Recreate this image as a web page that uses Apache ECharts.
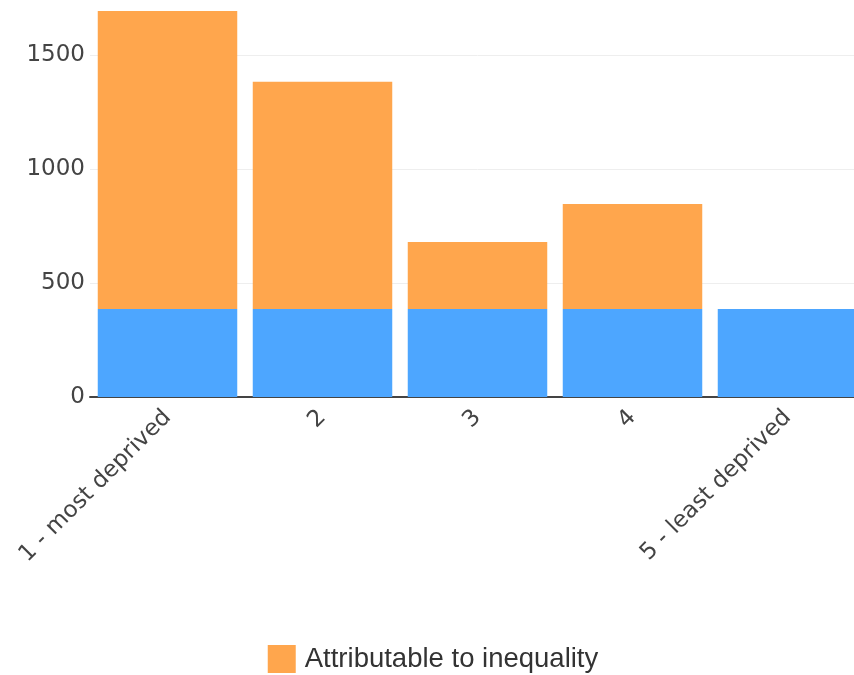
<!DOCTYPE html>
<html>
<head>
<meta charset="utf-8">
<script src="https://cdn.jsdelivr.net/npm/echarts@6/dist/echarts.min.js"></script>
<style>html,body{margin:0;padding:0;background:#fff;overflow:hidden}#c{width:866px;height:675px}</style>
</head>
<body>
<div id="c"></div>
<script>
const categories = ['1 - most deprived', '2', '3', '4', '5 - least deprived'];
const baseline = [386, 386, 386, 386, 386];
const attributable = [1307, 997, 294, 460, 0];
const yTicks = [0, 500, 1000, 1500];

const chart = echarts.init(document.getElementById('c'), null, {renderer: 'canvas'});
chart.setOption({
  animation: false,
  backgroundColor: '#fff',
  grid: {left: 90, width: 775, top: 0, height: 397, containLabel: false},
  legend: {
    data: ['Attributable to inequality'],
    top: 640, left: 'center',
    itemWidth: 28, itemHeight: 28, itemGap: 10,
    textStyle: {fontFamily: 'Liberation Sans', fontSize: 27.5, color: '#333', padding: [0, 0, 0, 4]},
    icon: 'rect'
  },
  xAxis: {
    type: 'category',
    data: categories,
    axisLine: {lineStyle: {color: '#444', width: 2}},
    axisTick: {show: false},
    axisLabel: {rotate: 45, fontFamily: 'DejaVu Sans', fontSize: 23, color: '#444', margin: 17, interval: 0}
  },
  yAxis: {
    type: 'value',
    min: 0, max: 1741, interval: 500,
    axisLine: {show: false},
    axisTick: {show: false},
    splitLine: {showMaxLine: false, lineStyle: {color: '#eee', width: 1}},
    axisLabel: {
      fontFamily: 'DejaVu Sans', fontSize: 23, color: '#444', margin: 5,
      showMaxLabel: false,
      formatter: v => yTicks.includes(v) ? String(v) : ''
    }
  },
  series: [
    {name: 'Baseline', type: 'bar', stack: 'a', data: baseline, barCategoryGap: '10%',
     itemStyle: {color: '#4da6ff'}},
    {name: 'Attributable to inequality', type: 'bar', stack: 'a', data: attributable,
     barCategoryGap: '10%', itemStyle: {color: '#ffa64d'}}
  ]
});
</script>
</body>
</html>
